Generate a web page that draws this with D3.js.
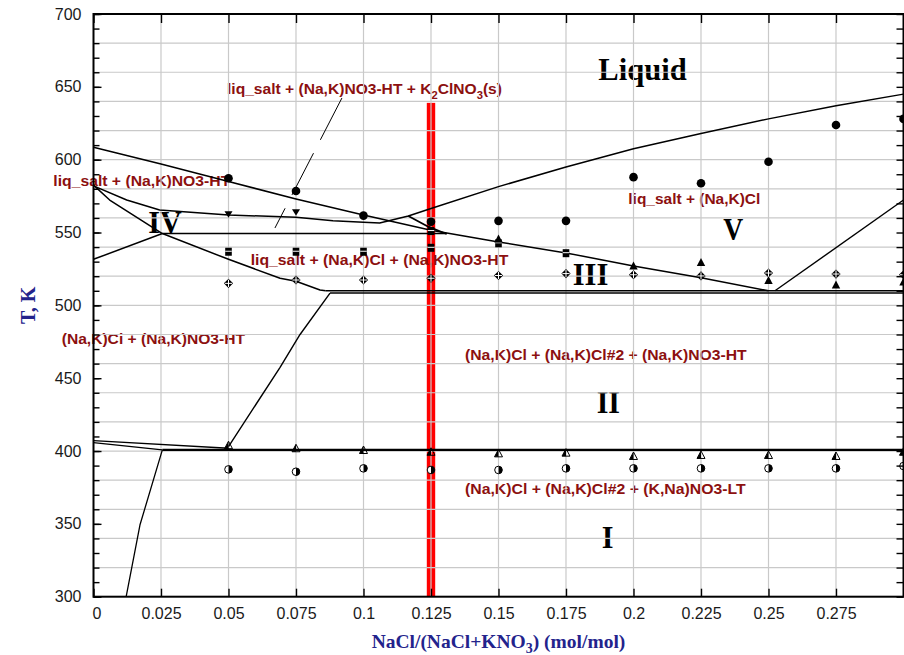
<!DOCTYPE html>
<html><head><meta charset="utf-8">
<script src="https://cdn.jsdelivr.net/npm/d3@7"></script>
<style>body{margin:0;background:#fff} svg{display:block}</style>
</head><body><svg id="c" width="904" height="655"></svg>
<script>
// ---------- axis / tick data ----------
const X_TICKS = [0, 0.025, 0.05, 0.075, 0.1, 0.125, 0.15, 0.175, 0.2, 0.225, 0.25, 0.275];
const X_TICK_LABELS = ["0","0.025","0.05","0.075","0.1","0.125","0.15","0.175","0.2","0.225","0.25","0.275"];
const Y_TICKS = [300, 350, 400, 450, 500, 550, 600, 650, 700];
const Y_TICK_LABELS = ["300","350","400","450","500","550","600","650","700"];
const Y_MINOR = [300,310,320,330,340,350,360,370,380,390,400,410,420,430,440,450,460,470,480,490,500,510,520,530,540,550,560,570,580,590,600,610,620,630,640,650,660,670,680,690,700];
const GRID_T = [320,340,360,380,400,420,440,460,480,500,520,540,560,580,600,620,640,660,680];
const GRID_X = [0.025,0.05,0.075,0.1,0.125,0.15,0.175,0.2,0.225,0.25,0.275];

// ---------- phase boundary lines [x, T] ----------
const liqNaNO3   = [[0,608.5],[0.025,597],[0.05,585],[0.075,573],[0.1,562],[0.125,551.5],[0.15,543.5],[0.175,536],[0.2,527],[0.225,519],[0.25,510]];
const liqNaCl    = [[0,582],[0.0123,572.3],[0.0245,565.5],[0.05,562],[0.075,560.5],[0.0887,558],[0.1,557],[0.106,556.5],[0.1166,561.3],[0.125,566.5],[0.15,581.5],[0.175,595],[0.2,607.5],[0.225,618],[0.25,628],[0.275,637],[0.3,645]];
const branch     = [[0.1166,561.3],[0.124,554],[0.1308,549]];
const line549    = [[0.0255,549.3],[0.1308,549.3]];
const ivSolvus   = [[0,582.5],[0.006,572.3],[0.0255,549.3],[0.05,531.6],[0.0691,518.6],[0.075,516.5],[0.0839,510.5],[0.086,510]];
const ivLower    = [[0,531.6],[0.0255,549.3]];
const line510a   = [[0.086,510],[0.3,510]];
const line510b   = [[0.0876,508.4],[0.3,508.4]];
const solvusCl   = [[0.05,403],[0.0691,457.5],[0.0765,480],[0.0876,508.4]];
const line401    = [[0.0255,400.8],[0.3,400.8]];
const leftA      = [[0,407.2],[0.05,401.9]];
const leftB      = [[0,405.7],[0.0255,400.8]];
const lowSolvus  = [[0.0255,400.8],[0.0172,349.2],[0.0121,300]];
const rightLine  = [[0.2524,510],[0.3,572.3]];
const leader     = [[0.092,642.3],[0.0672,553.1]];
const RED_BAR_X = 0.125, RED_BAR_TOP = 639;

// ---------- experimental points ----------
const X_COMP      = [0.05,0.075,0.1,0.125,0.15,0.175,0.2,0.225,0.25,0.275,0.3];
const T_LIQUIDUS  = [587.2,578.5,561.6,557.4,558,558,588,583.8,598.6,623.8,628];
const X_DOWNTRI   = [0.05,0.075];
const T_DOWNTRI   = [562.5,563.9];
const X_SQUARE    = [0.05,0.075,0.1,0.125,0.125,0.15,0.175];
const T_SQUARE    = [536.8,536.8,536.8,551,539.5,542.6,535.8];
const X_UPTRI     = [0.15,0.2,0.225,0.25,0.275,0.3];
const T_UPTRI     = [545.5,527,529.5,517,514,516];
const T_DIAMOND   = [515.1,517.4,517.4,518.6,520.5,521.8,521,520.2,522.2,521.5,521];
const T_HALFTRI   = [404,401.9,400.7,399.5,398.4,398.9,396.6,397.3,397.3,396.6,399.5];
const T_HALFCIRC  = [387.4,385.8,388.1,387,387,388.1,388.1,388.1,388.1,388.1,389.7];

// ---------- annotations (x, T anchor = left/baseline) ----------
const RED_LABELS = [
  {s:"liq_salt + (Na,K)NO3-HT + K{2}ClNO{3}(s)", x:0.04944, t:644.8, w:275},
  {s:"liq_salt + (Na,K)NO3-HT", x:-0.01489, t:582.1, w:177},
  {s:"liq_salt + (Na,K)Cl + (Na,K)NO3-HT", x:0.05822, t:527.7, w:257.6},
  {s:"liq_salt + (Na,K)Cl", x:0.19807, t:569.6, w:132},
  {s:"(Na,K)Ci + (Na,K)NO3-HT", x:-0.01178, t:473.5, w:183.3},
  {s:"(Na,K)Cl + (Na,K)Cl#2 + (Na,K)NO3-HT", x:0.13759, t:462.5, w:281.7},
  {s:"(Na,K)Cl + (Na,K)Cl#2 + (K,Na)NO3-LT", x:0.13759, t:370.3, w:280.7}
];
const BLACK_LABELS = [
  {s:"Liquid", x:0.18696, t:654.7, w:88.4},
  {s:"IV", x:0.0203, t:549.5, w:33.4},
  {s:"III", x:0.17748, t:514, w:35.6},
  {s:"V", x:0.23326, t:544.9, w:20},
  {s:"II", x:0.18637, t:425.9, w:23.3},
  {s:"I", x:0.18822, t:333.2, w:11.7}
];

// ---------- drawing ----------
const svg = d3.select("#c");
const x = d3.scaleLinear().domain([0, 0.3]).range([93.5, 903.5]);
const y = d3.scaleLinear().domain([300, 700]).range([596.7, 14]);
const X0 = x(0), X1 = x(0.3), Y0 = y(300), Y1 = y(700);

svg.append("defs").append("clipPath").attr("id","plot")
  .append("rect").attr("x",X0).attr("y",Y1).attr("width",X1-X0).attr("height",Y0-Y1);

// red bar
svg.append("rect")
  .attr("x", x(RED_BAR_X)-4.2).attr("y", y(RED_BAR_TOP))
  .attr("width", 8.4).attr("height", y(300)-y(RED_BAR_TOP))
  .attr("fill", "#ff0000");

function richText(g, str, fontSize) {
  const t = g.append("text");
  const parts = str.split(/(\{[^}]*\})/).filter(p => p.length);
  let shifted = false;
  parts.forEach(p => {
    if (p[0] === "{") {
      t.append("tspan").attr("dy", shifted ? 0 : fontSize*0.28).attr("font-size", fontSize*0.72).text(p.slice(1,-1));
      shifted = true;
    } else {
      t.append("tspan").attr("dy", shifted ? -fontSize*0.28 : 0).text(p);
      shifted = false;
    }
  });
  return t;
}

// labels (behind grid)
const labG = svg.append("g");
RED_LABELS.forEach(d => {
  const t = richText(labG, d.s, 15.5);
  t.attr("x", x(d.x)).attr("y", y(d.t))
   .attr("font-family", "'Liberation Sans', Arial, sans-serif")
   .attr("font-weight", "bold").attr("font-size", 15.5).attr("fill", "#8c1010")
   .attr("textLength", d.w).attr("lengthAdjust", "spacingAndGlyphs");
});
BLACK_LABELS.forEach(d => {
  labG.append("text").attr("x", x(d.x)).attr("y", y(d.t))
   .attr("font-family", "'Liberation Serif', 'Times New Roman', serif")
   .attr("font-weight", "bold").attr("font-size", 32).attr("fill", "#000")
   .attr("textLength", d.w).attr("lengthAdjust", "spacingAndGlyphs")
   .text(d.s);
});

// grid
const grid = svg.append("g").attr("stroke", "#c9c9c9").attr("stroke-width", 1.2);
grid.selectAll("line.gx").data(GRID_X).join("line").attr("class","gx")
  .attr("x1", d => x(d)).attr("x2", d => x(d)).attr("y1", Y1).attr("y2", Y0);
grid.selectAll("line.gy").data(GRID_T).join("line").attr("class","gy")
  .attr("x1", X0).attr("x2", X1).attr("y1", d => y(d)).attr("y2", d => y(d));

// curves
const plot = svg.append("g").attr("clip-path", "url(#plot)");
const lineGen = d3.line().x(d => x(d[0])).y(d => y(d[1]));
const curves = [
  [liqNaNO3,1.5],[liqNaCl,1.5],[branch,1.8],[line549,1.6],[ivSolvus,1.5],[ivLower,1.5],
  [line510a,1.5],[line510b,1.5],[solvusCl,1.4],[line401,2.2],[leftA,1.3],[leftB,1.3],
  [lowSolvus,1.3],[rightLine,1.4]
];
curves.forEach(([data, w]) => {
  plot.append("path").attr("d", lineGen(data)).attr("fill","none")
    .attr("stroke","#000").attr("stroke-width", w).attr("stroke-linejoin","round");
});
plot.append("path").attr("d", lineGen(leader)).attr("fill","none")
  .attr("stroke","#000").attr("stroke-width",1).attr("stroke-dasharray","47,15");

// markers
const mk = plot.append("g");
function pts(xs, ts) { return xs.map((v,i) => [v, ts[i]]); }
mk.selectAll("circle.liq").data(pts(X_COMP, T_LIQUIDUS)).join("circle").attr("class","liq")
  .attr("cx", d => x(d[0])).attr("cy", d => y(d[1])).attr("r", 4.3).attr("fill","#000");
mk.selectAll("path.dt").data(pts(X_DOWNTRI, T_DOWNTRI)).join("path").attr("class","dt")
  .attr("transform", d => `translate(${x(d[0])},${y(d[1])})`)
  .attr("d", "M-4,-3L4,-3L0,3.5Z").attr("fill","#000");
mk.selectAll("g.sq").data(pts(X_SQUARE, T_SQUARE)).join("g").attr("class","sq")
  .attr("transform", d => `translate(${x(d[0])},${y(d[1])})`)
  .each(function() {
    const g = d3.select(this);
    g.append("rect").attr("x",-3.3).attr("y",-4).attr("width",6.6).attr("height",8).attr("fill","#000");
    g.append("line").attr("x1",-3.3).attr("x2",3.3).attr("y1",-0.5).attr("y2",-0.5).attr("stroke","#fff").attr("stroke-width",1);
  });
mk.selectAll("path.ut").data(pts(X_UPTRI, T_UPTRI)).join("path").attr("class","ut")
  .attr("transform", d => `translate(${x(d[0])},${y(d[1])})`)
  .attr("d", "M0,-4.5L4.2,3.5L-4.2,3.5Z").attr("fill","#000");
mk.selectAll("g.dm").data(pts(X_COMP, T_DIAMOND)).join("g").attr("class","dm")
  .attr("transform", d => `translate(${x(d[0])},${y(d[1])})`)
  .each(function() {
    const g = d3.select(this);
    g.append("path").attr("d","M0,-4.6L4.6,0L0,4.6L-4.6,0Z").attr("fill","#000");
    g.append("path").attr("d","M-3.6,0H3.6M0,-3.6V3.6").attr("stroke","#fff").attr("stroke-width",1);
  });
mk.selectAll("g.ht").data(pts(X_COMP, T_HALFTRI)).join("g").attr("class","ht")
  .attr("transform", d => `translate(${x(d[0])},${y(d[1])})`)
  .each(function() {
    const g = d3.select(this);
    g.append("path").attr("d","M0,-4L0,3.5L-4,3.5Z").attr("fill","#000");
    g.append("path").attr("d","M0,-4L4,3.5L-4,3.5Z").attr("fill","none").attr("stroke","#000").attr("stroke-width",1);
  });
mk.selectAll("g.hc").data(pts(X_COMP, T_HALFCIRC)).join("g").attr("class","hc")
  .attr("transform", d => `translate(${x(d[0])},${y(d[1])})`)
  .each(function() {
    const g = d3.select(this);
    g.append("circle").attr("r",3.8).attr("fill","#fff").attr("stroke","#000").attr("stroke-width",1);
    g.append("path").attr("d","M0,-3.8A3.8,3.8 0 0 1 0,3.8Z").attr("fill","#000");
  });

// axes
const tickFont = "'Liberation Sans', Arial, sans-serif";
const ax = svg.append("g");
const axBottom = ax.append("g").attr("transform", `translate(0,${Y0})`)
  .call(d3.axisBottom(x).tickValues(X_TICKS).tickFormat((d,i) => X_TICK_LABELS[i]).tickSize(-8).tickPadding(11));
ax.append("g").attr("transform", `translate(0,${Y1})`)
  .call(d3.axisTop(x).tickValues(X_TICKS).tickFormat("").tickSize(-9));
ax.append("g").attr("transform", `translate(${X0},0)`)
  .call(d3.axisLeft(y).tickValues(Y_TICKS).tickFormat((d,i) => Y_TICK_LABELS[i]).tickSize(-8).tickPadding(12));
ax.append("g").attr("transform", `translate(${X0},0)`)
  .call(d3.axisLeft(y).tickValues(Y_MINOR).tickFormat("").tickSize(-6));
ax.append("g").attr("transform", `translate(${X1},0)`)
  .call(d3.axisRight(y).tickValues(Y_MINOR).tickFormat("").tickSize(-7));
ax.selectAll(".domain").remove();
ax.selectAll(".tick line").attr("stroke","#000").attr("stroke-width",1.4);
ax.selectAll(".tick text").attr("font-family", tickFont).attr("font-size", 16).attr("fill","#1a1a1a");
axBottom.selectAll(".tick text").filter((d,i) => i === 0).attr("dx", 3);

// frame
svg.append("rect").attr("x",X0).attr("y",Y1).attr("width",X1-X0).attr("height",Y0-Y1)
  .attr("fill","none").attr("stroke","#000").attr("stroke-width",2);

// axis titles
const xt = richText(svg, "NaCl/(NaCl+KNO{3}) (mol/mol)", 19.5);
xt.attr("x", (X0+X1)/2).attr("y", 648).attr("text-anchor","middle")
  .attr("font-family","'Liberation Serif', 'Times New Roman', serif").attr("font-weight","bold")
  .attr("font-size",19.5).attr("fill","#23238c");
svg.append("text").attr("transform", `translate(34.5,${(Y0+Y1)/2}) rotate(-90)`)
  .attr("text-anchor","middle")
  .attr("font-family","'Liberation Serif', 'Times New Roman', serif").attr("font-weight","bold")
  .attr("font-size",20).attr("fill","#23238c").text("T, K");
</script>
</body></html>
